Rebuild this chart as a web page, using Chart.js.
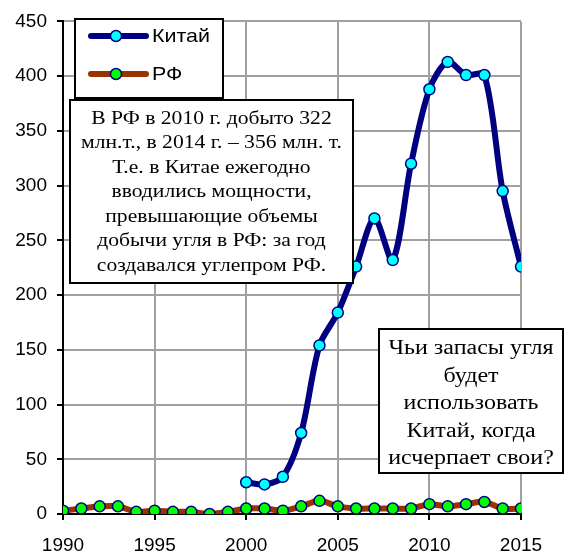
<!DOCTYPE html>
<html>
<head>
<meta charset="utf-8">
<script src="https://cdn.jsdelivr.net/npm/chart.js@4"></script>
<style>
  html, body { margin: 0; padding: 0; background: #fff; }
  #wrap { width: 573px; height: 557px; }
</style>
</head>
<body>
<div id="wrap"><canvas id="chart"></canvas></div>
<script>
const years = [1990, 1991, 1992, 1993, 1994, 1995, 1996, 1997, 1998, 1999,
               2000, 2001, 2002, 2003, 2004, 2005, 2006, 2007, 2008, 2009,
               2010, 2011, 2012, 2013, 2014, 2015];
const china = [null, null, null, null, null, null, null, null, null, null,
               29, 27, 34, 74, 154, 184, 226, 270, 232, 320,
               388, 413, 401, 401, 295, 226];
const rf = [3, 5, 7, 7, 2, 3, 2, 2, 0, 2,
            5, 5, 3, 7, 12, 7, 5, 5, 5, 5,
            9, 7, 9, 11, 5, 5];
const seriesNames = ['Китай', 'РФ'];
const note1 = ['В РФ в 2010 г. добыто 322', 'млн.т., в 2014 г. – 356 млн. т.',
               'Т.е. в Китае ежегодно', 'вводились мощности,',
               'превышающие объемы', 'добычи угля в РФ: за год',
               'создавался углепром РФ.'];
const note2 = ['Чьи запасы угля', 'будет', 'использовать', 'Китай, когда', 'исчерпает свои?'];

function pts(vals) {
  return years.map((y, i) => ({ x: y, y: vals[i] }));
}

// the original picture is a bit stretched sideways, so text is widened too
function wideText(ctx, t, x, y, sx) {
  ctx.save();
  ctx.translate(x, y);
  ctx.scale(sx, 1);
  ctx.fillText(t, 0, 0);
  ctx.restore();
}

function textBox(ctx, x1, y1, x2, y2, lines, font, y0, step) {
  ctx.save();
  ctx.fillStyle = '#fff';
  ctx.fillRect(x1, y1, x2 - x1, y2 - y1);
  ctx.strokeStyle = '#000';
  ctx.lineWidth = 2;
  ctx.strokeRect(x1, y1, x2 - x1, y2 - y1);
  ctx.fillStyle = '#000';
  ctx.font = font;
  ctx.textAlign = 'center';
  ctx.textBaseline = 'middle';
  lines.forEach((t, i) => wideText(ctx, t, (x1 + x2) / 2, y0 + i * step, 1.2));
  ctx.restore();
}

const overlay = {
  id: 'overlay',
  afterDatasetsDraw(chart) {
    const ctx = chart.ctx;
    // legend
    ctx.save();
    ctx.fillStyle = '#fff';
    ctx.fillRect(75, 19, 148, 79);
    ctx.strokeStyle = '#000';
    ctx.lineWidth = 2;
    ctx.strokeRect(75, 19, 148, 79);
    chart.data.datasets.forEach((ds, i) => {
      const y = 36 + i * 38;
      ctx.strokeStyle = ds.borderColor;
      ctx.lineWidth = 6;
      ctx.lineCap = 'round';
      ctx.beginPath();
      ctx.moveTo(91, y);
      ctx.lineTo(146, y);
      ctx.stroke();
      ctx.beginPath();
      ctx.arc(116, y, 5.5, 0, Math.PI * 2);
      ctx.fillStyle = ds.pointBackgroundColor;
      ctx.fill();
      ctx.lineWidth = 1.5;
      ctx.strokeStyle = ds.pointBorderColor;
      ctx.stroke();
      ctx.fillStyle = '#000';
      ctx.font = '19px "Liberation Sans", Arial, sans-serif';
      ctx.textAlign = 'left';
      ctx.textBaseline = 'middle';
      wideText(ctx, ds.label, 152, y + 1, 1.13);
    });
    ctx.restore();
    textBox(ctx, 70, 100, 353, 283, note1, '18px "Liberation Serif", "Times New Roman", serif', 119, 24.5);
    textBox(ctx, 379, 329, 563, 473, note2, '20px "Liberation Serif", "Times New Roman", serif', 349, 27.5);
  }
};

new Chart(document.getElementById('chart'), {
  type: 'line',
  data: {
    datasets: [{
      label: seriesNames[0],
      data: pts(china),
      borderColor: '#000080',
      borderWidth: 6,
      pointBackgroundColor: '#00ffff',
      pointBorderColor: '#000080',
      pointBorderWidth: 1.5,
      pointRadius: 5.5,
      tension: 0.3
    }, {
      label: seriesNames[1],
      data: pts(rf),
      borderColor: '#993300',
      borderWidth: 6,
      pointBackgroundColor: '#00ff00',
      pointBorderColor: '#000080',
      pointBorderWidth: 1.5,
      pointRadius: 5.5,
      tension: 0.3
    }]
  },
  options: {
    responsive: true,
    maintainAspectRatio: false,
    animation: false,
    layout: { padding: { top: 18, right: 52, left: 0, bottom: 0 } },
    plugins: { legend: { display: false }, tooltip: { enabled: false } },
    scales: {
      x: {
        type: 'linear',
        min: 1990, max: 2015,
        ticks: { stepSize: 5, padding: 14, color: '#000',
                 font: { family: '"Liberation Sans", Arial, sans-serif', size: 19 },
                 callback: v => String(v) },
        grid: { color: '#a0a0a0', lineWidth: 2, tickLength: 6, tickColor: '#000' },
        border: { color: '#000', width: 2 },
        afterFit: s => { s.height = 43; }
      },
      y: {
        min: 0, max: 450,
        ticks: { stepSize: 50, padding: 10, color: '#000',
                 font: { family: '"Liberation Sans", Arial, sans-serif', size: 19 } },
        grid: { color: '#a0a0a0', lineWidth: 2, tickLength: 6, tickColor: '#000' },
        border: { color: '#000', width: 2 },
        afterFit: s => { s.width = 63; }
      }
    }
  },
  plugins: [overlay]
});
</script>
</body>
</html>
